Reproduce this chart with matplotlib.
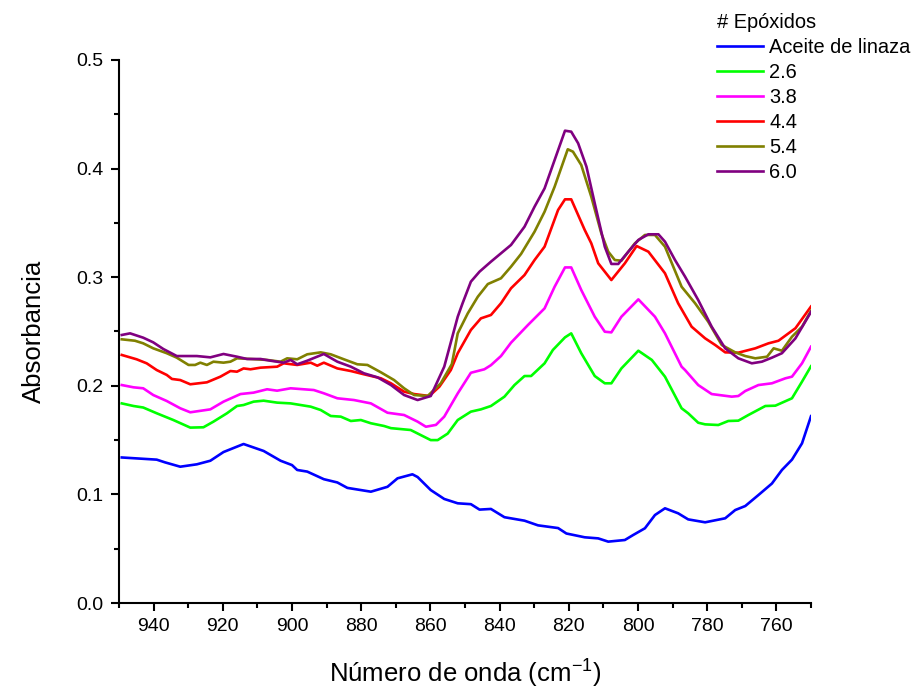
import matplotlib
matplotlib.use("Agg")
import matplotlib.pyplot as plt
from matplotlib.ticker import MultipleLocator, FormatStrFormatter

plt.rcParams['font.family'] = ['Liberation Sans', 'DejaVu Sans']
plt.rcParams['mathtext.fontset'] = 'custom'
plt.rcParams['mathtext.rm'] = 'Liberation Sans'
plt.rcParams['mathtext.it'] = 'Liberation Sans:italic'
plt.rcParams['mathtext.bf'] = 'Liberation Sans:bold'

# Wavenumber (cm-1) and absorbance for each sample
wn_linaza = [949.2, 939.1, 936.7, 932.3, 927.5, 923.6, 919.8, 914.0, 908.2, 903.3,
             900.0, 898.5, 895.6, 890.8, 886.9, 884.0, 877.2, 872.4, 869.5, 865.2,
             863.7, 859.9, 856.0, 852.1, 848.3, 845.8, 842.5, 838.6, 832.8, 828.9,
             823.1, 820.7, 815.4, 811.5, 808.6, 803.8, 801.4, 798.0, 795.1, 792.2,
             788.4, 785.5, 780.6, 774.8, 771.9, 769.0, 765.2, 761.3, 758.4, 755.5,
             752.6, 750.0]
abs_linaza = [0.134, 0.132, 0.1295, 0.1255, 0.1277, 0.131, 0.139, 0.1464, 0.140, 0.131,
              0.127, 0.1225, 0.121, 0.114, 0.111, 0.106, 0.1025, 0.107, 0.1148, 0.1185,
              0.116, 0.104, 0.0958, 0.0918, 0.091, 0.086, 0.0866, 0.079, 0.0758, 0.0715,
              0.069, 0.064, 0.0605, 0.0595, 0.0565, 0.058, 0.0626, 0.0688, 0.081, 0.0872,
              0.0826, 0.077, 0.0743, 0.078, 0.0856, 0.0893, 0.0994, 0.110, 0.1225, 0.132,
              0.147, 0.172]

wn_26 = [949.2, 945.8, 943.0, 939.1, 934.3, 929.4, 925.6, 922.7, 918.8, 915.9,
         914.0, 911.1, 908.2, 904.3, 900.4, 894.6, 891.7, 888.8, 885.9, 883.0,
         880.1, 877.2, 873.4, 871.4, 865.7, 859.9, 857.9, 855.0, 852.1, 848.3,
         845.4, 842.5, 838.6, 835.7, 832.8, 830.9, 827.0, 824.6, 821.1, 819.3,
         816.4, 812.5, 809.6, 807.7, 804.8, 799.9, 796.0, 792.2, 787.4, 785.5,
         782.6, 780.6, 776.8, 773.9, 771.0, 768.1, 763.2, 760.3, 755.5, 752.6,
         750.0]
abs_26 = [0.1838, 0.1814, 0.180, 0.1747, 0.1685, 0.1615, 0.1618, 0.167, 0.1747, 0.1814,
          0.1823, 0.1854, 0.1863, 0.1845, 0.1838, 0.1808, 0.1777, 0.1722, 0.1716, 0.1676,
          0.1685, 0.1655, 0.163, 0.161, 0.1593, 0.150, 0.150, 0.156, 0.1685, 0.1762,
          0.1783, 0.1814, 0.190, 0.2007, 0.209, 0.209, 0.2207, 0.233, 0.2446, 0.2483,
          0.230, 0.209, 0.2023, 0.2023, 0.216, 0.2323, 0.2238, 0.2084, 0.1793, 0.1747,
          0.166, 0.1645, 0.1639, 0.1676, 0.1679, 0.1731, 0.1814, 0.1817, 0.1885, 0.2038,
          0.218]

wn_38 = [949.2, 945.8, 943.0, 940.1, 936.2, 932.3, 929.4, 923.6, 919.8, 914.9,
         911.1, 907.2, 904.3, 900.4, 893.7, 890.8, 886.9, 882.1, 877.2, 872.4,
         867.6, 863.7, 861.3, 858.4, 856.0, 852.1, 848.3, 844.4, 842.5, 839.6,
         836.7, 831.8, 827.0, 824.1, 821.1, 819.3, 816.4, 812.5, 809.6, 807.7,
         804.8, 799.9, 795.1, 792.2, 787.4, 786.4, 782.6, 778.7, 772.9, 771.0,
         769.0, 765.2, 761.3, 757.4, 755.5, 752.6, 750.0]
abs_38 = [0.2007, 0.1986, 0.1977, 0.1915, 0.186, 0.1793, 0.1756, 0.1783, 0.1854, 0.1924,
          0.1937, 0.1968, 0.1955, 0.1977, 0.1961, 0.1931, 0.1885, 0.1869, 0.1838, 0.1752,
          0.1731, 0.167, 0.1623, 0.164, 0.1716, 0.193, 0.212, 0.2152, 0.219, 0.2274,
          0.2397, 0.256, 0.2713, 0.2912, 0.309, 0.309, 0.2882, 0.2636, 0.2498, 0.2492,
          0.2636, 0.2796, 0.2636, 0.2483, 0.2176, 0.2145, 0.2007, 0.1924, 0.190, 0.1906,
          0.1952, 0.2007, 0.2023, 0.2069, 0.2084, 0.2207, 0.236]

wn_44 = [949.2, 944.9, 942.0, 939.1, 936.2, 934.7, 932.3, 929.4, 924.6, 920.7,
         917.8, 915.9, 914.0, 912.0, 909.1, 904.3, 902.4, 898.5, 894.6, 892.7,
         890.8, 886.9, 883.0, 879.2, 874.3, 871.4, 867.6, 864.7, 860.3, 857.4,
         854.1, 852.1, 848.3, 845.4, 842.5, 839.6, 836.7, 832.8, 829.9, 827.0,
         823.1, 821.1, 819.3, 815.4, 813.5, 811.5, 807.7, 803.8, 800.4, 797.0,
         792.2, 788.4, 784.5, 780.6, 777.7, 774.8, 771.0, 766.1, 762.3, 759.4,
         754.5, 750.0]
abs_44 = [0.2284, 0.2244, 0.2207, 0.2145, 0.210, 0.2063, 0.2053, 0.2014, 0.2032, 0.2084,
          0.2136, 0.213, 0.216, 0.2152, 0.2167, 0.2176, 0.2207, 0.2192, 0.2213, 0.2185,
          0.2213, 0.216, 0.2136, 0.2106, 0.2069, 0.2023, 0.1946, 0.1924, 0.1906, 0.1992,
          0.2145, 0.230, 0.2514, 0.2621, 0.2652, 0.276, 0.2898, 0.302, 0.3158, 0.3281,
          0.3619, 0.3717, 0.3717, 0.3435, 0.3312, 0.3128, 0.2974, 0.3128, 0.3287, 0.3235,
          0.3036, 0.276, 0.2544, 0.2437, 0.2376, 0.2308, 0.2305, 0.2345, 0.2391, 0.2415,
          0.253, 0.273]

wn_54 = [949.2, 945.4, 943.0, 940.1, 936.2, 933.3, 929.9, 928.0, 926.5, 924.6,
         922.7, 919.8, 917.8, 915.9, 912.0, 907.2, 903.3, 901.4, 898.5, 895.6,
         891.7, 888.8, 885.0, 881.1, 878.2, 874.3, 870.5, 867.6, 864.7, 860.8,
         857.0, 853.8, 852.1, 849.2, 846.3, 843.4, 839.6, 836.7, 833.8, 829.9,
         827.0, 824.1, 820.3, 818.8, 816.4, 813.5, 810.6, 808.6, 806.7, 804.8,
         800.9, 798.0, 795.1, 792.2, 787.4, 783.5, 779.7, 775.8, 771.9, 769.0,
         766.1, 762.7, 760.8, 758.4, 755.5, 752.6, 750.0]
abs_54 = [0.2428, 0.2415, 0.2391, 0.2345, 0.230, 0.2259, 0.2192, 0.2192, 0.2213, 0.2192,
          0.2222, 0.2213, 0.2222, 0.2253, 0.2247, 0.2238, 0.2222, 0.2253, 0.2244, 0.229,
          0.2308, 0.229, 0.2244, 0.2198, 0.2192, 0.2124, 0.2053, 0.1977, 0.1915, 0.1906,
          0.2023, 0.2200, 0.2483, 0.2667, 0.282, 0.2937, 0.299, 0.3097, 0.3214, 0.3419,
          0.3603, 0.3833, 0.4178, 0.4156, 0.4033, 0.3741, 0.3404, 0.3235, 0.3158, 0.3152,
          0.3312, 0.3389, 0.3389, 0.3281, 0.2912, 0.276, 0.259, 0.2376, 0.2308, 0.2274,
          0.2253, 0.2268, 0.2345, 0.2323, 0.2452, 0.2544, 0.269]

wn_60 = [949.2, 946.8, 943.0, 940.1, 937.2, 933.3, 927.5, 923.6, 919.8, 915.9,
         913.0, 909.1, 906.2, 902.4, 900.4, 898.5, 895.6, 890.8, 886.9, 883.0,
         879.2, 875.3, 871.4, 867.6, 863.7, 859.9, 856.0, 852.1, 850.7, 848.3,
         845.8, 842.5, 839.6, 836.7, 832.8, 829.9, 827.0, 824.1, 821.1, 819.3,
         817.3, 814.9, 812.5, 809.6, 807.7, 805.7, 802.8, 799.9, 797.0, 794.1,
         792.2, 789.3, 786.4, 782.6, 778.7, 774.8, 771.0, 767.1, 764.2, 761.3,
         758.4, 754.5, 750.0]
abs_60 = [0.2468, 0.2483, 0.2443, 0.240, 0.2339, 0.2274, 0.2274, 0.2262, 0.2293, 0.2268,
          0.2247, 0.2247, 0.2231, 0.2213, 0.2238, 0.2198, 0.2231, 0.2293, 0.2222, 0.2176,
          0.2115, 0.2078, 0.2007, 0.1915, 0.1869, 0.1906, 0.2176, 0.2636, 0.276, 0.2959,
          0.3051, 0.3143, 0.322, 0.3297, 0.3465, 0.3649, 0.3818, 0.4079, 0.4349, 0.434,
          0.4233, 0.4018, 0.368, 0.3281, 0.3122, 0.3122, 0.3235, 0.3343, 0.3395, 0.3395,
          0.3327, 0.3158, 0.3005, 0.279, 0.2544, 0.2345, 0.2253, 0.2207, 0.2222, 0.2259,
          0.230, 0.2437, 0.268]

series = [
    ("Aceite de linaza", wn_linaza, abs_linaza, "#0000FF"),
    ("2.6", wn_26, abs_26, "#00FF00"),
    ("3.8", wn_38, abs_38, "#FF00FF"),
    ("4.4", wn_44, abs_44, "#FF0000"),
    ("5.4", wn_54, abs_54, "#808000"),
    ("6.0", wn_60, abs_60, "#800080"),
]

fig = plt.figure(figsize=(9.14, 6.89), dpi=100)
ax = fig.add_axes([119 / 914, 86 / 689, (811 - 119) / 914, (603 - 60) / 689])

for label, x, y, color in series:
    ax.plot(x, y, color=color, lw=1.9, label=label)

ax.set_xlim(950, 750)
ax.set_ylim(0, 0.5)

ax.xaxis.set_major_locator(MultipleLocator(20))
ax.xaxis.set_minor_locator(MultipleLocator(10))
ax.yaxis.set_major_locator(MultipleLocator(0.1))
ax.yaxis.set_minor_locator(MultipleLocator(0.05))
ax.yaxis.set_major_formatter(FormatStrFormatter('%.1f'))

for side in ('top', 'right'):
    ax.spines[side].set_visible(False)
for side in ('left', 'bottom'):
    ax.spines[side].set_linewidth(1.5)

ax.tick_params(which='major', direction='out', length=6, width=1.5, labelsize=14, pad=5)
ax.tick_params(which='minor', direction='out', length=3.5, width=1.5)

ax.set_xlabel(r'Número de onda (cm$^{-1}$)', fontsize=18.5, labelpad=16)
ax.set_ylabel('Absorbancia', fontsize=18.5, labelpad=22)

leg = fig.legend(loc='upper left', bbox_to_anchor=(717 / 914, 1 - 13 / 689),
                 frameon=False, title='# Epóxidos', fontsize=14.4, title_fontsize=14.4,
                 handlelength=2.3, handletextpad=0.3, labelspacing=0.3,
                 borderpad=0, borderaxespad=0, alignment='left')
for line in leg.get_lines():
    line.set_linewidth(1.9)

fig.savefig('out.png', dpi=100)
